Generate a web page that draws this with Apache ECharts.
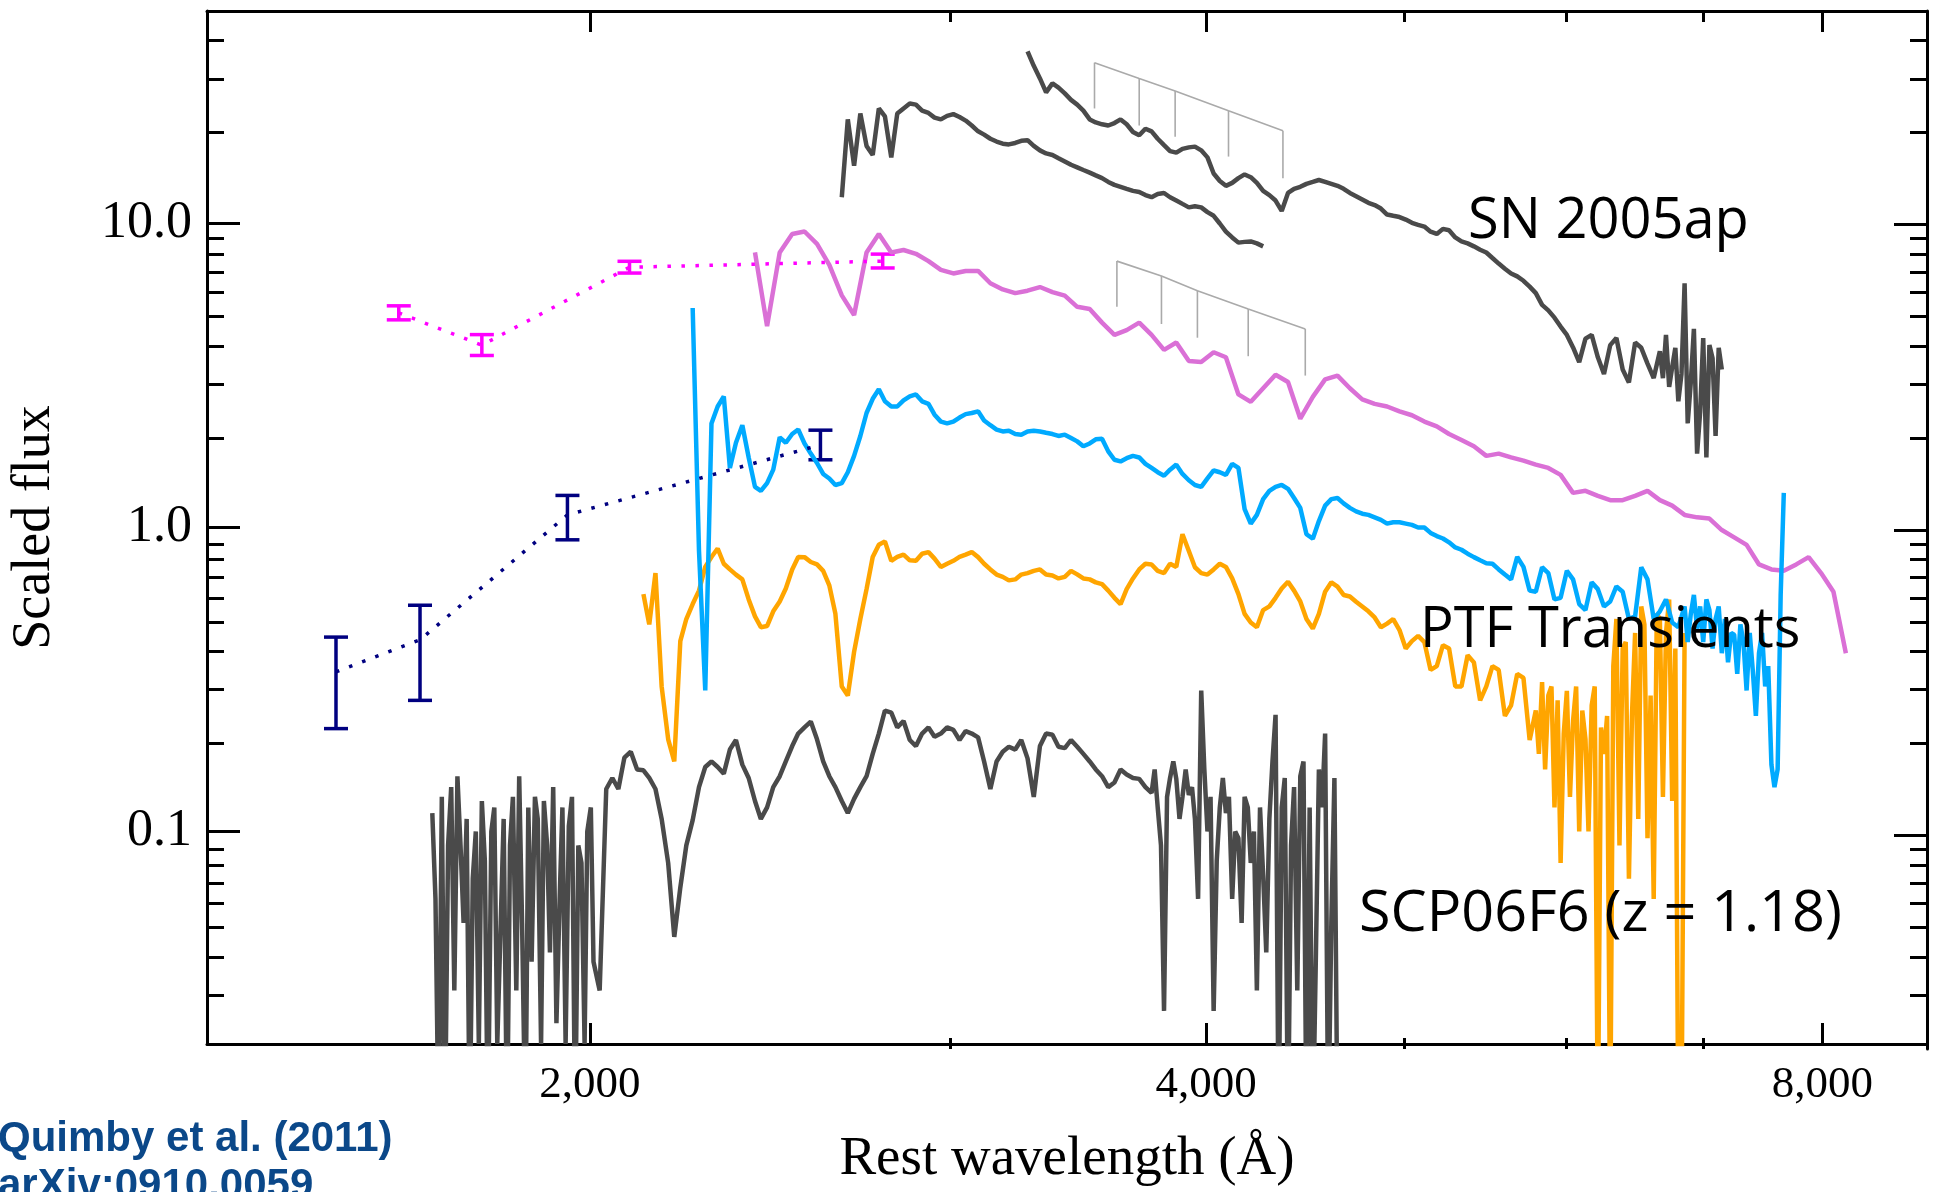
<!DOCTYPE html>
<html><head><meta charset="utf-8">
<script src="https://cdn.jsdelivr.net/npm/echarts@6/dist/echarts.min.js"></script>
<style>html,body{margin:0;padding:0;background:#fff}#c{width:1942px;height:1192px}</style>
</head><body><div id="c"></div>
<script>
// ---- wavelength grid (Å) shared by the spectra, and the in-between samples ----
const waveGrid = [
 1675,1699,1723,1747,1771,1796,1822,1847,1873,1899,
 1926,1953,1981,2008,2037,2065,2094,2124,2153,2184,
 2214,2245,2277,2309,2341,2374,2408,2441,2476,2511,
 2546,2582,2618,2655,2692,2730,2768,2807,2846,2886,
 2927,2968,3010,3052,3095,3138,3182,3227,3272,3318,
 3365,3412,3460,3509,3558,3608,3658,3710,3762,3815,
 3868,3923,3978,4034,4090,4148,4206,4265,4325,4386,
 4447,4510,4573,4637,4702,4768,4835,4903,4972,5042,
 5113,5185,5257,5331,5406,5482,5559,5637,5716,5796,
 5878,5960,6044,6129,6215,6302,6391,6481,6572,6664,
 6757,6852,6949,7046,7145,7245,7347,7450,7555,7661,
 7769,7878,7989,8101,8215];
const waveMid = [
 1687,1711,1735,1759,1783,1809,1834,1860,1886,1912,
 1939,1967,1994,2022,2051,2079,2109,2138,2168,2199,
 2229,2261,2293,2325,2357,2391,2424,2458,2493,2528,
 2564,2600,2636,2673,2711,2749,2787,2826,2866,2906,
 2947,2989,3031,3073,3116,3160,3204,3249,3295,3341,
 3388,3436,3484,3533,3583,3633,3684,3736,3788,3841,
 3895,3950,4006,4062,4119,4177,4235,4295,4355,4416,
 4478,4541,4605,4669,4735,4801,4869,4937,5007,5077,
 5149,5221,5294,5368,5444,5520,5598,5676,5756,5837,
 5919,6002,6086,6172,6258,6346,6436,6526,6618,6710,
 6804,6900,6997,7095,7195,7296,7398,7502,7608,7715,
 7823,7933,8045,8158];

// ---- SCP06F6 ----
const scpStart = 0;
const scpFlux = [0.115,0.01,0.152,0.01,0.126,0.120,0.01,0.152,0.0373,0.126,
 0.0234,0.104,0.0788,0.0373,0.138,0.138,0.183,0.159,0.138,0.0788,
 0.0654,0.109,0.163,0.163,0.186,0.166,0.126,0.120,0.152,0.191,
 0.220,0.201,0.152,0.126,0.128,0.152,0.210,0.246,0.231,0.191,
 0.220,0.210,0.216,0.214,0.204,0.138,0.183,0.186,0.174,0.191,
 0.208,0.188,0.190,0.170,0.152,0.145,0.154,0.149,0.134,0.0257,
 0.149,0.132,0.291,0.0257,0.115,0.095,0.0788,0.0718,0.242,0.01,
 0.152,0.01,0.210,0.01];
const scpMidStart = 0;
const scpMidFlux = [0.01,0.14,0.05,0.10,0.01,0.05,0.13,0.01,0.11,0.04,
 0.12,0.01,0.10,0.03,0.15,0.175,0.16,0.15,0.11,0.045,
 0.09,0.14,0.17,0.155,0.20,0.15,0.11,0.14,0.17,0.21,
 0.23,0.17,0.14,0.115,0.14,0.18,0.25,0.22,0.20,0.21,
 0.205,0.22,0.20,0.21,0.17,0.17,0.19,0.20,0.13,0.21,
 0.19,0.20,0.18,0.16,0.14,0.16,0.15,0.14,0.12,0.15,
 0.13,0.11,0.10,0.12,0.06,0.13,0.03,0.11,0.12,0.14,
 0.01,0.16,0.05];
const scpExtraWave = [1681,1693,1705,1717,1729,1741,1753,1765,1777,1790,1802,1815,1828,1841,1853,1866,1880,1893,1906,1919,1933,1946,1960,1974,1988,2002,
 3775,3802,3828,3855,3882,3909,3937,3964,3992,4020,4048,4076,4104,4133,4163,4192,4221,4250,4280,4310,4340,4370,4401,4432,4463,4494,4526,4557,4589,4621];
const scpExtraFlux = [0.06,0.13,0.09,0.03,0.09,0.11,0.07,0.02,0.08,0.10,0.02,0.11,0.09,0.03,0.05,0.12,0.13,0.02,0.09,0.14,0.06,0.02,0.13,0.09,0.02,0.12,
 0.16,0.09,0.13,0.17,0.11,0.16,0.14,0.06,0.16,0.13,0.08,0.15,0.13,0.10,0.05,0.12,0.10,0.12,0.04,0.17,0.01,0.15,0.09,0.03,0.17,0.12,0.04,0.12,0.01,0.15];

// ---- PTF orange ----
const orangeStart = 17;
const orangeFlux = [0.604,0.708,0.201,0.423,0.560,0.742,0.853,0.728,0.675,0.510,
 0.474,0.571,0.728,0.799,0.756,0.645,0.30,0.39,0.627,0.877,
 0.777,0.814,0.777,0.830,0.742,0.777,0.814,0.799,0.728,0.688,
 0.675,0.708,0.728,0.695,0.688,0.701,0.675,0.651,0.587,0.627,
 0.728,0.756,0.708,0.742,0.837,0.708,0.728,0.742,0.604,0.487,
 0.535,0.587,0.663,0.571,0.465,0.615,0.639,0.593,0.550,0.506,
 0.483,0.460,0.423,0.42,0.35,0.40,0.30,0.36,0.30,0.34,
 0.26,0.32,0.25,0.28,0.0788,0.231,0.201,0.01,0.01,0.40,
 0.45,0.095,0.50,0.126,0.45];
const orangeMidStart = 17;
const orangeMidFlux = [0.48,0.30,0.17,0.50,0.62,0.80,0.76,0.70,0.58,0.47,
 0.53,0.63,0.80,0.77,0.72,0.52,0.28,0.50,0.80,0.90,
 0.80,0.78,0.82,0.79,0.76,0.80,0.83,0.76,0.70,0.67,
 0.70,0.72,0.70,0.68,0.72,0.68,0.66,0.62,0.56,0.68,
 0.76,0.72,0.76,0.95,0.74,0.70,0.76,0.68,0.52,0.47,
 0.55,0.63,0.62,0.50,0.52,0.66,0.60,0.57,0.53,0.47,
 0.50,0.40,0.44,0.34,0.41,0.30,0.38,0.27,0.35,0.24,
 0.33,0.20,0.31,0.12,0.29,0.10,0.26,0.18,0.50,0.07,
 0.55,0.06,0.45,0.01];
const orangeExtraWave = [5816,5857,5899,5940,5981,6023,6065,6107,6150,6193,6237,6280,6324,6368,6413,6458,6504,6549,6595,6641,6687,6734,6781,6828];
const orangeExtraFlux = [0.18,0.16,0.30,0.27,0.21,0.13,0.30,0.25,0.10,0.30,0.22,0.24,0.35,0.09,0.42,0.24,0.11,0.48,0.28,0.52,0.13,0.58,0.40,0.01];

// ---- PTF blue ----
const blueStart = 21;
const blueFlux = [5.27,0.291,2.50,1.57,2.17,1.36,1.40,1.98,2.03,1.89,
 1.63,1.45,1.40,1.72,2.38,2.85,2.50,2.62,2.74,2.55,
 2.23,2.23,2.36,2.41,2.17,2.07,2.03,2.07,2.07,2.03,
 2.02,1.92,1.89,1.96,1.67,1.69,1.70,1.57,1.48,1.61,
 1.43,1.36,1.54,1.49,1.57,1.03,1.24,1.36,1.34,1.16,
 0.919,1.18,1.25,1.16,1.11,1.08,1.03,1.04,1.02,1.00,
 0.937,0.894,0.845,0.799,0.763,0.728,0.675,0.742,0.615,0.708,
 0.587,0.675,0.535,0.627,0.571,0.615,0.510,0.675,0.530,0.487,
 0.550,0.465,0.535,0.386,0.444,0.291,0.386,0.166,1.30];
const blueMidStart = 21;
const blueMidFlux = [0.84,2.2,2.7,1.9,1.7,1.32,1.55,1.9,2.1,1.75,
 1.50,1.38,1.52,2.0,2.65,2.6,2.5,2.7,2.6,2.35,
 2.2,2.3,2.38,2.25,2.10,2.08,2.02,2.08,2.05,2.0,
 1.97,1.85,1.95,1.78,1.65,1.72,1.62,1.52,1.55,1.50,
 1.38,1.45,1.52,1.62,1.15,1.10,1.32,1.38,1.25,0.95,
 1.05,1.24,1.20,1.13,1.10,1.06,1.04,1.03,1.00,0.96,
 0.92,0.86,0.82,0.78,0.76,0.70,0.80,0.62,0.74,0.58,
 0.72,0.56,0.66,0.55,0.64,0.50,0.74,0.50,0.58,0.47,
 0.52,0.42,0.50,0.36,0.48,0.34,0.30,0.16];
const blueExtraWave = [6876,6924,6973,7022,7071,7120,7170,7220,7270,7321,7373,7424,7476,7528,7581,7634];
const blueExtraFlux = [0.42,0.60,0.55,0.58,0.40,0.55,0.50,0.45,0.33,0.42,0.45,0.24,0.45,0.35,0.14,0.6];

// ---- PTF orchid ----
const orchidStart = 26;
const orchidFlux = [8.03,4.6,8.03,9.24,9.41,8.57,7.31,5.8,5.0,8.03,
 9.24,8.03,8.18,7.95,7.52,7.04,6.85,6.98,6.98,6.36,
 6.07,5.90,6.01,6.18,5.95,5.79,5.32,5.23,4.72,4.30,
 4.46,4.72,4.30,3.84,4.06,3.53,3.50,3.77,3.63,2.74,
 2.59,2.87,3.18,3.01,2.28,2.69,3.07,3.16,2.87,2.64,
 2.55,2.50,2.41,2.34,2.23,2.15,2.03,1.94,1.85,1.72,
 1.75,1.70,1.66,1.61,1.57,1.49,1.30,1.32,1.27,1.23,
 1.23,1.27,1.32,1.23,1.18,1.10,1.08,1.07,0.981,0.928,
 0.877,0.756,0.728,0.721,0.756,0.799,0.708,0.615,0.386];

// ---- SN 2005ap (two epochs) ----
const sn05apEarlyStart = 33;
const sn05apEarlyFlux = [12.2,15.5,18.0,23.9,16.5,23.9,24.6,23.1,22.0,22.9,
 21.8,20.1,19.0,18.3,18.4,18.8,17.4,16.8,16.0,15.3,
 14.7,14.1,13.4,13.0,12.7,12.2,12.6,11.9,11.3,11.3,
 10.6,9.41,8.65,8.73,8.41];
const sn05apEarlyMidStart = 33;
const sn05apEarlyMidFlux = [22.0,23.0,16.8,22.5,23.0,24.8,23.5,22.3,22.6,22.4,
 21.0,19.6,18.6,18.2,18.7,18.0,17.0,16.4,15.6,15.0,
 14.4,13.7,13.2,12.8,12.4,12.5,12.2,11.6,11.4,10.9,
 10.0,9.0,8.7,8.6];

const sn05apLateStart = 48;
const sn05apLateFlux = [36.8,30.0,28.9,26.8,24.6,22.0,21.2,21.4,21.2,19.5,
 20.1,18.1,17.1,17.8,17.4,14.6,13.3,14.1,14.2,12.8,
 11.9,12.6,13.2,13.7,13.7,13.3,12.6,12.0,11.5,10.7,
 10.5,10.05,9.77,9.24,9.50,8.73,8.41,8.03,7.38,6.85,
 6.48,5.90,5.18,4.58,3.91,4.18,3.63,3.98,3.31,4.06,
 3.46,3.80,3.37,6.36,1.75,3.98,3.31];
const sn05apLateMidStart = 48;
const sn05apLateMidFlux = [33,27,28,25.5,23.5,21.5,21.0,22.0,20.0,20.5,
 19.0,17.3,17.6,17.9,16.5,13.8,13.6,14.5,13.6,12.4,
 11.0,13.0,13.5,13.9,13.5,13.0,12.3,11.7,11.2,10.6,
 10.3,9.9,9.4,9.6,9.0,8.6,8.2,7.7,7.1,6.7,
 6.2,5.4,4.9,4.3,3.5,4.3,3.2,4.2,3.0,3.9,
 3.1,4.3,2.6,3.0,4.2,2.0];
const sn05apLateExtraWave = [6687,6734,6781,6828,6876,6924,6973,7022,7071,7120];
const sn05apLateExtraFlux = [3.1,2.9,3.9,3.2,2.2,4.5,2.4,1.7,3.6,3.9];

// ---- photometry ----
const magentaWave = [1613, 1771, 2091, 2780];
const magentaFlux = [5.08, 3.98, 7.18, 7.52];
const magentaLow  = [4.82, 3.68, 6.87, 7.14];
const magentaHigh = [5.36, 4.31, 7.51, 7.93];
const navyWave = [1503, 1652, 1950, 2592];
const navyFlux = [0.335, 0.427, 1.10, 1.87];
const navyLow  = [0.218, 0.270, 0.911, 1.67];
const navyHigh = [0.436, 0.555, 1.275, 2.09];

// ---- line identification combs ----
const combUpperWave = [3528, 3710, 3863, 4102, 4361];
const combUpperTop = [33.8, 30.0, 27.3, 23.5, 20.2];
const combUpperBottom = [23.9, 21.0, 19.3, 16.6, 14.1];
const combLowerWave = [3618, 3804, 3961, 4194, 4472];
const combLowerTop = [7.52, 6.72, 6.01, 5.23, 4.50];
const combLowerBottom = [5.32, 4.67, 4.21, 3.66, 3.16];

// ---- axes ----
const xMajor = [2000, 4000, 8000];
const xMinor = [3000, 5000, 6000, 7000];
const yMajor = [0.1, 1, 10];
const yMinor = [0.03,0.04,0.05,0.06,0.07,0.08,0.09,0.2,0.3,0.4,0.5,0.6,0.7,0.8,0.9,2,3,4,5,6,7,8,9,20,30,40];
const xRange = [1300, 9000];
const yRange = [0.02, 50];

function spectrum(start, flux, midStart, midFlux, extraWave, extraFlux) {
  const pts = flux.map((f, i) => [waveGrid[start + i], f]);
  if (midFlux) midFlux.forEach((f, i) => pts.push([waveMid[midStart + i], f]));
  if (extraWave) extraWave.forEach((w, i) => pts.push([w, extraFlux[i]]));
  return pts.sort((a, b) => a[0] - b[0]);
}
const serif = 'Liberation Serif';

const G = {left: 207, right: 15, top: 11, bottom: 143};
const baseX = {type: 'log', logBase: 10, min: xRange[0], max: xRange[1], splitLine: {show: false}};
const baseY = {type: 'log', logBase: 10, min: yRange[0], max: yRange[1], splitLine: {show: false}};
const axLine = {show: true, lineStyle: {color: '#000', width: 3}};
const tickStyle = {color: '#000', width: 3};

function xAx(grid, pos, vals, len, withLine, labels) {
  return Object.assign({}, baseX, {
    gridIndex: grid, position: pos,
    axisLine: withLine ? axLine : {show: false},
    axisTick: {show: true, inside: true, length: len, customValues: vals, lineStyle: tickStyle},
    axisLabel: labels ? {show: true, customValues: vals, fontFamily: serif, fontSize: 45, color: '#000', margin: 19,
      formatter: v => Math.round(v).toLocaleString('en-US')} : {show: false}
  });
}
function yAx(grid, pos, vals, len, withLine, labels) {
  return Object.assign({}, baseY, {
    gridIndex: grid, position: pos,
    axisLine: withLine ? axLine : {show: false},
    axisTick: {show: true, inside: true, length: len, customValues: vals, lineStyle: tickStyle},
    axisLabel: labels ? {show: true, customValues: vals, fontFamily: serif, fontSize: 52, color: '#000', margin: 15,
      formatter: v => Number(v.toPrecision(3)).toFixed(1)} : {show: false}
  });
}

const xAxes = [
  Object.assign(xAx(0, 'bottom', xMajor, 21, true, true), {
    name: 'Rest wavelength (Å)', nameLocation: 'middle', nameGap: 88,
    nameTextStyle: {fontFamily: serif, fontSize: 55, color: '#000'}}),
  xAx(1, 'bottom', xMinor, 11, false, false),
  xAx(2, 'top', xMajor, 21, true, false),
  xAx(3, 'top', xMinor, 11, false, false)
];
const yAxes = [
  Object.assign(yAx(0, 'left', yMajor, 33, true, true), {
    name: 'Scaled flux', nameLocation: 'middle', nameGap: 145,
    nameTextStyle: {fontFamily: serif, fontSize: 54, color: '#000'}}),
  yAx(1, 'left', yMinor, 17, false, false),
  yAx(2, 'right', yMajor, 33, true, false),
  yAx(3, 'right', yMinor, 17, false, false)
];

function specSeries(name, data, color) {
  return {type: 'line', name, data, xAxisIndex: 0, yAxisIndex: 0, symbol: 'none', showSymbol: false,
    lineStyle: {color, width: 4.5, join: 'bevel'}, silent: true, clip: true};
}
function errorBars(name, wave, low, high, color) {
  return {type: 'custom', name, xAxisIndex: 0, yAxisIndex: 0, silent: true,
    data: wave.map((w, i) => [w, low[i], high[i]]),
    encode: {x: 0, y: [1, 2]},
    renderItem: (params, api) => {
      const lo = api.coord([api.value(0), api.value(1)]);
      const hi = api.coord([api.value(0), api.value(2)]);
      const hw = 12, st = {stroke: color, lineWidth: 3.5};
      return {type: 'group', children: [
        {type: 'line', shape: {x1: lo[0], y1: lo[1], x2: hi[0], y2: hi[1]}, style: st},
        {type: 'line', shape: {x1: lo[0] - hw, y1: lo[1], x2: lo[0] + hw, y2: lo[1]}, style: st},
        {type: 'line', shape: {x1: hi[0] - hw, y1: hi[1], x2: hi[0] + hw, y2: hi[1]}, style: st}
      ]};
    }};
}
function dotted(name, wave, flux, color) {
  return {type: 'line', name, data: wave.map((w, i) => [w, flux[i]]), xAxisIndex: 0, yAxisIndex: 0,
    symbol: 'none', silent: true, lineStyle: {color, width: 3.5, type: [3.5, 10.5]}};
}
function combTeeth(name, wave, top, bottom) {
  return {type: 'custom', name, xAxisIndex: 0, yAxisIndex: 0, silent: true,
    data: wave.map((w, i) => [w, top[i], bottom[i]]),
    encode: {x: 0, y: [1, 2]},
    renderItem: (params, api) => {
      const a = api.coord([api.value(0), api.value(1)]);
      const b = api.coord([api.value(0), api.value(2)]);
      return {type: 'line', shape: {x1: a[0], y1: a[1], x2: b[0], y2: b[1]}, style: {stroke: '#aaaaaa', lineWidth: 1.6}};
    }};
}
function combSpine(name, wave, top) {
  return {type: 'line', name, data: wave.map((w, i) => [w, top[i]]), xAxisIndex: 0, yAxisIndex: 0,
    symbol: 'none', silent: true, lineStyle: {color: '#aaaaaa', width: 1.6}};
}

const option = {
  animation: false,
  backgroundColor: '#ffffff',
  grid: [G, G, G, G].map(g => Object.assign({}, g)),
  xAxis: xAxes,
  yAxis: yAxes,
  series: [
    specSeries('SCP06F6', spectrum(scpStart, scpFlux, scpMidStart, scpMidFlux, scpExtraWave, scpExtraFlux), '#4a4a4a'),
    specSeries('PTF orchid', spectrum(orchidStart, orchidFlux), '#da70d6'),
    specSeries('PTF orange', spectrum(orangeStart, orangeFlux, orangeMidStart, orangeMidFlux, orangeExtraWave, orangeExtraFlux), '#ffa500'),
    specSeries('PTF blue', spectrum(blueStart, blueFlux, blueMidStart, blueMidFlux, blueExtraWave, blueExtraFlux), '#00aaff'),
    specSeries('SN 2005ap early', spectrum(sn05apEarlyStart, sn05apEarlyFlux, sn05apEarlyMidStart, sn05apEarlyMidFlux), '#4a4a4a'),
    specSeries('SN 2005ap late', spectrum(sn05apLateStart, sn05apLateFlux, sn05apLateMidStart, sn05apLateMidFlux, sn05apLateExtraWave, sn05apLateExtraFlux), '#4a4a4a'),
    combSpine('comb upper', combUpperWave, combUpperTop),
    combTeeth('comb upper teeth', combUpperWave, combUpperTop, combUpperBottom),
    combSpine('comb lower', combLowerWave, combLowerTop),
    combTeeth('comb lower teeth', combLowerWave, combLowerTop, combLowerBottom),
    dotted('magenta phot', magentaWave, magentaFlux, '#ff00ff'),
    errorBars('magenta err', magentaWave, magentaLow, magentaHigh, '#ff00ff'),
    dotted('navy phot', navyWave, navyFlux, '#000080'),
    errorBars('navy err', navyWave, navyLow, navyHigh, '#000080')
  ],
  graphic: [
    {type: 'text', x: 1468, y: 222, z: 100, style: {text: 'SN 2005ap', font: '56px "Open Sans"', fill: '#000', verticalAlign: 'middle'}},
    {type: 'text', x: 1420, y: 631, z: 100, style: {text: 'PTF Transients', font: '56px "Open Sans"', fill: '#000', verticalAlign: 'middle'}},
    {type: 'text', x: 1359, y: 915, z: 100, style: {text: 'SCP06F6 (z = 1.18)', font: '57.5px "Open Sans"', fill: '#000', verticalAlign: 'middle'}},
    {type: 'text', x: -2, y: 1139, z: 100, style: {text: 'Quimby et al. (2011)', font: 'bold 42px "Liberation Sans"', fill: '#0b4889', verticalAlign: 'middle'}},
    {type: 'text', x: -2, y: 1186, z: 100, style: {text: 'arXiv:0910.0059', font: 'bold 42px "Liberation Sans"', fill: '#0b4889', verticalAlign: 'middle'}}
  ]
};
const chart = echarts.init(document.getElementById('c'), null, {renderer: 'canvas'});
chart.setOption(option);
</script></body></html>
